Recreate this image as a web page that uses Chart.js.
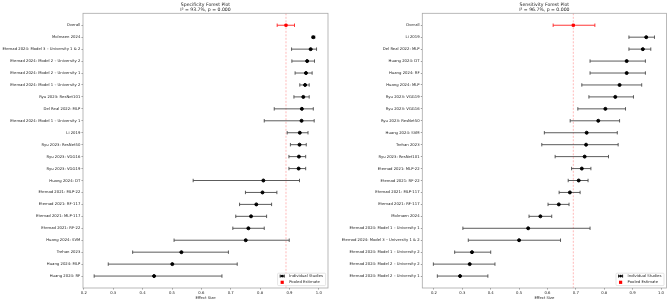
<!DOCTYPE html>
<html>
<head>
<meta charset="utf-8">
<script src="https://cdn.jsdelivr.net/npm/chart.js@4.4.1/dist/chart.umd.min.js"></script>
<style>
html, body { margin: 0; padding: 0; background: #fff; }
#wrap { position: relative; width: 669px; height: 301px; }
canvas { position: absolute; top: 0; }
#specChart { left: 0; }
#sensChart { left: 334px; }
</style>
</head>
<body>
<div id="wrap">
  <canvas id="specChart" width="334" height="301"></canvas>
  <canvas id="sensChart" width="335" height="301"></canvas>
</div>
<script>
const xTicks = [0.2, 0.3, 0.4, 0.5, 0.6, 0.7, 0.8, 0.9, 1.0];

// specificity
const specLabels = [
    'Molmaen 2024',
    'Etemad 2024: Model 3 – University 1 & 2',
    'Etemad 2024: Model 2 – University 2',
    'Etemad 2024: Model 2 – University 1',
    'Etemad 2024: Model 1 – University 2',
    'Ryu 2023: ResNet101',
    'Del Real 2022: MLP',
    'Etemad 2024: Model 1 – University 1',
    'Li 2019',
    'Ryu 2023: ResNet50',
    'Ryu 2023: VGG16',
    'Ryu 2023: VGG19',
    'Huang 2024: DT',
    'Etemad 2021: MLP-22',
    'Etemad 2021: RF-117',
    'Etemad 2021: MLP-117',
    'Etemad 2021: RF-22',
    'Huang 2024: SVM',
    'Trehan 2023',
    'Huang 2024: MLP',
    'Huang 2024: RF'
];
const specEst  = [0.981, 0.972, 0.960, 0.956, 0.953, 0.947, 0.942, 0.941, 0.935, 0.934, 0.932, 0.931, 0.811, 0.808, 0.787, 0.769, 0.760, 0.751, 0.532, 0.501, 0.439];
const specLow  = [0.977, 0.907, 0.908, 0.919, 0.935, 0.915, 0.848, 0.814, 0.892, 0.903, 0.898, 0.898, 0.572, 0.750, 0.730, 0.717, 0.707, 0.507, 0.366, 0.283, 0.235];
const specHigh = [0.986, 0.992, 0.985, 0.977, 0.967, 0.967, 0.981, 0.984, 0.963, 0.957, 0.955, 0.955, 0.934, 0.857, 0.839, 0.822, 0.814, 0.899, 0.692, 0.722, 0.670];
const specPooled = [0.888, 0.858, 0.917]; // estimate, low, high

// sensitivity
const sensLabels = [
    'Li 2019',
    'Del Real 2022: MLP',
    'Huang 2024: DT',
    'Huang 2024: RF',
    'Huang 2024: MLP',
    'Ryu 2023: VGG19',
    'Ryu 2023: VGG16',
    'Ryu 2023: ResNet50',
    'Huang 2024: SVM',
    'Trehan 2023',
    'Ryu 2023: ResNet101',
    'Etemad 2021: MLP-22',
    'Etemad 2021: RF-22',
    'Etemad 2021: MLP-117',
    'Etemad 2021: RF-117',
    'Molmaen 2024',
    'Etemad 2024: Model 1 – University 1',
    'Etemad 2024: Model 3 – University 1 & 2',
    'Etemad 2024: Model 1 – University 2',
    'Etemad 2024: Model 2 – University 2',
    'Etemad 2024: Model 2 – University 1'
];
const sensEst  = [0.948, 0.936, 0.879, 0.879, 0.854, 0.839, 0.804, 0.779, 0.738, 0.736, 0.731, 0.721, 0.710, 0.679, 0.640, 0.575, 0.532, 0.500, 0.334, 0.326, 0.292];
const sensLow  = [0.887, 0.887, 0.750, 0.750, 0.721, 0.746, 0.707, 0.680, 0.589, 0.580, 0.627, 0.685, 0.673, 0.641, 0.602, 0.535, 0.302, 0.321, 0.273, 0.198, 0.212];
const sensHigh = [0.977, 0.964, 0.945, 0.945, 0.932, 0.903, 0.875, 0.854, 0.846, 0.849, 0.815, 0.753, 0.743, 0.715, 0.676, 0.615, 0.750, 0.646, 0.400, 0.415, 0.390];
const sensPooled = [0.691, 0.620, 0.767];

Chart.defaults.font.family = "'DejaVu Sans', sans-serif";

const SMALL = 3.8;
const TITLE = 4.6;

function forestPlugin(cfg) {
    const errBar = (ctx, x, y, lo, hi, row, color) => {
        const x1 = x.getPixelForValue(lo);
        const x2 = x.getPixelForValue(hi);
        const py = y.getPixelForValue(row);
        ctx.strokeStyle = color;
        ctx.lineWidth = 0.9;
        ctx.beginPath();
        ctx.moveTo(x1, py); ctx.lineTo(x2, py);
        ctx.moveTo(x1, py - 1.7); ctx.lineTo(x1, py + 1.7);
        ctx.moveTo(x2, py - 1.7); ctx.lineTo(x2, py + 1.7);
        ctx.stroke();
    };
    return {
        id: 'forest',
        beforeDatasetsDraw(chart) {
            const { ctx, chartArea: a, scales: { x, y } } = chart;
            ctx.save();
            // pooled reference line
            const px = x.getPixelForValue(cfg.pooled[0]);
            ctx.strokeStyle = 'rgba(255,0,0,0.35)';
            ctx.lineWidth = 0.8;
            ctx.setLineDash([2, 1.5]);
            ctx.beginPath();
            ctx.moveTo(px, a.top); ctx.lineTo(px, a.bottom);
            ctx.stroke();
            ctx.setLineDash([]);
            cfg.low.forEach((lo, i) => errBar(ctx, x, y, lo, cfg.high[i], i + 1, '#4a4a4a'));
            errBar(ctx, x, y, cfg.pooled[1], cfg.pooled[2], 0, '#ff2020');
            ctx.restore();
        },
        afterDraw(chart) {
            const { ctx, chartArea: a } = chart;
            ctx.save();
            // frame
            ctx.strokeStyle = '#a8a8a8';
            ctx.lineWidth = 0.8;
            ctx.strokeRect(a.left, a.top, a.right - a.left, a.bottom - a.top);

            // title
            const cx = (a.left + a.right) / 2;
            ctx.fillStyle = '#222';
            ctx.textAlign = 'center';
            ctx.textBaseline = 'middle';
            ctx.font = TITLE + "px 'DejaVu Sans'";
            ctx.fillText(cfg.title, cx, 4.3);
            ctx.fillText(cfg.stats, cx, 9.7);

            // legend
            const lw = 48, lh = 12.4;
            const lx = a.right - 2.4 - lw, ly = a.bottom - 2.4 - lh;
            ctx.fillStyle = 'rgba(255,255,255,0.85)';
            ctx.strokeStyle = '#d4d4d4';
            ctx.lineWidth = 0.6;
            ctx.beginPath();
            ctx.roundRect(lx, ly, lw, lh, 1);
            ctx.fill();
            ctx.stroke();

            const mx = lx + 4.6;
            const r1 = ly + 2.9, r2 = ly + 9.1;
            ctx.strokeStyle = '#000';
            ctx.lineWidth = 0.9;
            ctx.beginPath();
            ctx.moveTo(mx - 2, r1); ctx.lineTo(mx + 2, r1);
            ctx.moveTo(mx - 2, r1 - 1.5); ctx.lineTo(mx - 2, r1 + 1.5);
            ctx.moveTo(mx + 2, r1 - 1.5); ctx.lineTo(mx + 2, r1 + 1.5);
            ctx.stroke();
            ctx.fillStyle = '#000';
            ctx.beginPath();
            ctx.arc(mx, r1, 1.3, 0, Math.PI * 2);
            ctx.fill();
            ctx.fillStyle = '#ff0000';
            ctx.fillRect(mx - 1.6, r2 - 1.6, 3.2, 3.2);

            ctx.fillStyle = '#222';
            ctx.textAlign = 'left';
            ctx.font = SMALL + "px 'DejaVu Sans'";
            ctx.fillText('Individual Studies', lx + 11.6, r1);
            ctx.fillText('Pooled Estimate', lx + 11.6, r2);
            ctx.restore();
        }
    };
}

function forestChart(canvasId, cfg) {
    const rowLabels = ['Overall', ...cfg.labels];
    const n = rowLabels.length;
    new Chart(document.getElementById(canvasId), {
        type: 'scatter',
        data: {
            datasets: [
                {
                    data: cfg.est.map((v, i) => ({ x: v, y: i + 1 })),
                    backgroundColor: '#000',
                    borderColor: '#000',
                    pointRadius: 1.5,
                    pointHoverRadius: 1.5
                },
                {
                    data: [{ x: cfg.pooled[0], y: 0 }],
                    backgroundColor: '#ff0000',
                    borderColor: '#ff0000',
                    pointStyle: 'rect',
                    pointRadius: 1.6,
                    pointHoverRadius: 1.6
                }
            ]
        },
        options: {
            responsive: false,
            animation: false,
            events: [],
            layout: { padding: { top: 13.3, right: cfg.padRight, left: 0, bottom: 0 } },
            plugins: {
                legend: { display: false },
                tooltip: { enabled: false }
            },
            scales: {
                x: {
                    type: 'linear',
                    min: cfg.xMin,
                    max: cfg.xMax,
                    afterBuildTicks: s => { s.ticks = xTicks.map(v => ({ value: v })); },
                    afterFit: s => { s.height = 13; },
                    ticks: {
                        callback: v => Number(v).toFixed(1),
                        font: { size: SMALL },
                        color: '#222',
                        padding: 1.2,
                        maxRotation: 0,
                        autoSkip: false
                    },
                    grid: { drawOnChartArea: false, tickLength: 1.5, color: '#555', lineWidth: 0.6 },
                    border: { display: false },
                    title: {
                        display: true,
                        text: 'Effect Size',
                        font: { size: SMALL },
                        color: '#222',
                        padding: { top: 0, bottom: 0.7 }
                    }
                },
                y: {
                    type: 'linear',
                    min: -1,
                    max: n,
                    reverse: true,
                    afterBuildTicks: s => { s.ticks = rowLabels.map((_, i) => ({ value: i })); },
                    afterFit: s => { s.width = cfg.axisWidth; },
                    ticks: {
                        callback: v => rowLabels[v],
                        font: { size: SMALL },
                        color: '#222',
                        padding: 1.2,
                        autoSkip: false
                    },
                    grid: { drawOnChartArea: false, tickLength: 1.5, color: '#555', lineWidth: 0.6 },
                    border: { display: false }
                }
            }
        },
        plugins: [forestPlugin(cfg)]
    });
}

forestChart('specChart', {
    labels: specLabels, est: specEst, low: specLow, high: specHigh, pooled: specPooled,
    title: 'Specificity Forest Plot', stats: 'I² = 93.7%, p = 0.000',
    xMin: 0.197, xMax: 1.031, axisWidth: 83, padRight: 6
});

forestChart('sensChart', {
    labels: sensLabels, est: sensEst, low: sensLow, high: sensHigh, pooled: sensPooled,
    title: 'Sensitivity Forest Plot', stats: 'I² = 96.7%, p = 0.000',
    xMin: 0.159, xMax: 1.019, axisWidth: 88.3, padRight: 1.3
});
</script>
</body>
</html>
